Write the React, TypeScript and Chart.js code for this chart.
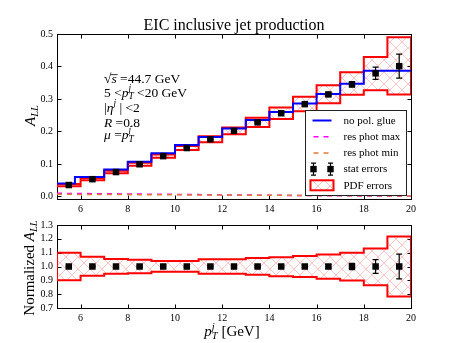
import React, { useEffect, useRef } from "react";
import { Chart, registerables } from "chart.js";
Chart.register(...registerables);

// ---------- data ----------
const binEdges = [5, 6, 7, 8, 9, 10, 11, 12, 13, 14, 15, 16, 17, 18, 19, 20];
const binCenters = [5.5, 6.5, 7.5, 8.5, 9.5, 10.5, 11.5, 12.5, 13.5, 14.5, 15.5, 16.5, 17.5, 18.5, 19.5];
const xTicks = [6, 8, 10, 12, 14, 16, 18, 20];
const topYTicks = [0.0, 0.1, 0.2, 0.3, 0.4, 0.5];
const bottomYTicks = [0.7, 0.8, 0.9, 1.0, 1.1, 1.2, 1.3];

const allPoints = [0.035, 0.053, 0.075, 0.099, 0.124, 0.149, 0.176, 0.202, 0.228, 0.256, 0.284, 0.314, 0.345, 0.379, 0.401];
const allStatErr = [0.0015, 0.0015, 0.0015, 0.0015, 0.0015, 0.0015, 0.0015, 0.0015, 0.002, 0.002, 0.0025, 0.004, 0.0075, 0.019, 0.037];
const pdfUpper = [0.0385, 0.0568, 0.0791, 0.1038, 0.129, 0.155, 0.185, 0.2125, 0.242, 0.274, 0.307, 0.342, 0.382, 0.429, 0.49];
const pdfLower = [0.0315, 0.0494, 0.0711, 0.0942, 0.119, 0.143, 0.167, 0.1915, 0.214, 0.238, 0.262, 0.287, 0.313, 0.327, 0.314];

const glueEdges = [5, 5.76, 7, 8, 9, 10, 11, 12, 13, 14, 15, 16, 17, 18, 20];
const glueValues = [0.04, 0.06, 0.083, 0.107, 0.133, 0.158, 0.183, 0.209, 0.235, 0.26, 0.286, 0.315, 0.347, 0.387];

const resPhotX = [5, 8, 11, 14, 17, 20];
const resPhotMax = [0.0095, 0.0075, 0.0055, 0.0035, 0.002, 0.0005];
const resPhotMin = [0.0065, 0.0055, 0.0045, 0.0035, 0.0025, 0.0012];

const normPoints = [1, 1, 1, 1, 1, 1, 1, 1, 1, 1, 1, 1, 1, 1, 1];
const normStatErr = [0.004, 0.004, 0.004, 0.004, 0.004, 0.004, 0.005, 0.005, 0.006, 0.007, 0.008, 0.013, 0.022, 0.05, 0.09];
const normUpper = [1.1, 1.071, 1.055, 1.048, 1.04, 1.04, 1.052, 1.052, 1.062, 1.067, 1.076, 1.086, 1.1, 1.13, 1.217];
const normLower = [0.9, 0.933, 0.948, 0.952, 0.962, 0.962, 0.948, 0.948, 0.94, 0.929, 0.924, 0.912, 0.898, 0.864, 0.783];

const legendLabels = ["no pol. glue", "res phot max", "res phot min", "stat errors", "PDF errors"];
const titleText = "EIC inclusive jet production";

// ---------- helpers ----------
const SERIF = "'Liberation Serif', 'DejaVu Serif', serif";
const BLUE = "#0000ff";
const RED = "#ff0000";
const MAGENTA = "#ff00ff";
const ORANGE = "#e07b39";

type Part = { t: string; it?: boolean; s?: number; dy?: number; noAdv?: boolean; over?: boolean };

function fontFor(p: Part, size: number) {
  return `${p.it ? "italic " : ""}${size * (p.s || 1)}px ${SERIF}`;
}
function richWidth(ctx: CanvasRenderingContext2D, parts: Part[], size: number) {
  let w = 0;
  for (const p of parts) {
    ctx.font = fontFor(p, size);
    if (!p.noAdv) w += ctx.measureText(p.t).width;
  }
  return w;
}
function drawRich(ctx: CanvasRenderingContext2D, x: number, y: number, parts: Part[], size: number, align: "left" | "center" = "left") {
  ctx.save();
  ctx.textAlign = "left";
  ctx.textBaseline = "alphabetic";
  ctx.fillStyle = "#000";
  let cx = align === "center" ? x - richWidth(ctx, parts, size) / 2 : x;
  for (const p of parts) {
    ctx.font = fontFor(p, size);
    const w = ctx.measureText(p.t).width;
    ctx.fillText(p.t, cx, y + (p.dy || 0));
    if (p.over) {
      ctx.strokeStyle = "#000";
      ctx.lineWidth = 0.8;
      ctx.beginPath();
      ctx.moveTo(cx - 1, y - size * 0.62);
      ctx.lineTo(cx + w + 1, y - size * 0.62);
      ctx.stroke();
    }
    if (!p.noAdv) cx += w;
  }
  ctx.restore();
}

function makeHatch(): CanvasPattern | string {
  const t = document.createElement("canvas");
  t.width = 12;
  t.height = 12;
  const c = t.getContext("2d");
  if (!c) return "rgba(255,0,0,0.2)";
  c.strokeStyle = "rgba(255,90,90,0.38)";
  c.lineWidth = 0.9;
  c.beginPath();
  c.moveTo(-1, -1);
  c.lineTo(13, 13);
  c.moveTo(13, -1);
  c.lineTo(-1, 13);
  c.stroke();
  const p = c.createPattern(t, "repeat");
  return p || "rgba(255,0,0,0.2)";
}

function bandShape(up: number[], lo: number[]) {
  const n = up.length;
  const pts: { x: number; y: number }[] = [];
  for (let i = 0; i < n; i++) pts.push({ x: binEdges[i], y: up[i] });
  pts.push({ x: binEdges[n], y: up[n - 1] });
  pts.push({ x: binEdges[n], y: lo[n - 1] });
  for (let i = n - 1; i >= 1; i--) pts.push({ x: binEdges[i], y: lo[i - 1] });
  pts.push({ x: binEdges[0], y: lo[0] });
  pts.push({ x: binEdges[0], y: up[0] });
  return pts;
}

function framePlugin(yTicks: number[]) {
  return {
    id: "frame",
    beforeDatasetsDraw(chart: any) {
      const { ctx, chartArea: a, scales } = chart;
      ctx.save();
      ctx.strokeStyle = "#000";
      ctx.lineWidth = 1;
      const L = Math.round(a.left) + 0.5, R = Math.round(a.right) + 0.5, T = Math.round(a.top) + 0.5, B = Math.round(a.bottom) + 0.5;
      ctx.strokeRect(L, T, R - L, B - T);
      ctx.beginPath();
      for (const v of xTicks) {
        const px = Math.round(scales.x.getPixelForValue(v)) + 0.5;
        ctx.moveTo(px, B); ctx.lineTo(px, B - 4);
        ctx.moveTo(px, T); ctx.lineTo(px, T + 4);
      }
      for (const v of yTicks) {
        const py = Math.round(scales.y.getPixelForValue(v)) + 0.5;
        ctx.moveTo(L, py); ctx.lineTo(L + 4, py);
        ctx.moveTo(R, py); ctx.lineTo(R - 4, py);
      }
      ctx.stroke();
      ctx.restore();
    },
  };
}

function errorBarPlugin(errs: number[]) {
  return {
    id: "errbars",
    beforeDatasetDraw(chart: any, args: any) {
      if (args.index !== 0) return;
      const { ctx, scales } = chart;
      const ds = chart.data.datasets[0].data as { x: number; y: number }[];
      ctx.save();
      ctx.strokeStyle = "#000";
      ctx.lineWidth = 1.2;
      ctx.beginPath();
      ds.forEach((d, i) => {
        const px = scales.x.getPixelForValue(d.x);
        const y1 = scales.y.getPixelForValue(d.y + errs[i]);
        const y2 = scales.y.getPixelForValue(d.y - errs[i]);
        ctx.moveTo(px, y1); ctx.lineTo(px, y2);
        ctx.moveTo(px - 3, y1); ctx.lineTo(px + 3, y1);
        ctx.moveTo(px - 3, y2); ctx.lineTo(px + 3, y2);
      });
      ctx.stroke();
      ctx.restore();
    },
  };
}

const ptStyleJ = (size: number): Part[] => [
  { t: "p", it: true },
  { t: "j", it: true, s: 0.7, dy: -size * 0.42, noAdv: true },
  { t: "T", it: true, s: 0.7, dy: size * 0.22 },
];

function topTextPlugin(hatch: CanvasPattern | string) {
  return {
    id: "toptext",
    afterDraw(chart: any) {
      const { ctx, chartArea: a } = chart;
      // title
      ctx.save();
      ctx.font = `16px ${SERIF}`;
      ctx.fillStyle = "#000";
      ctx.textAlign = "center";
      ctx.textBaseline = "alphabetic";
      ctx.fillText(titleText, (a.left + a.right) / 2, 30);
      ctx.restore();
      // y label
      ctx.save();
      ctx.translate(35, 115.5);
      ctx.rotate(-Math.PI / 2);
      drawRich(ctx, 0, 0, [{ t: "A", it: true }, { t: "LL", it: true, s: 0.7, dy: 3 }], 15, "center");
      ctx.restore();
      // annotation
      const fs = 13.5;
      const ax = 104;
      drawRich(ctx, ax, 83, [{ t: "\u221A", s: 1 }, { t: "s", it: true, over: true }, { t: " =44.7 GeV" }], fs);
      drawRich(ctx, ax, 96.5, [{ t: "5 <" }, ...ptStyleJ(fs), { t: " <20 GeV" }], fs);
      drawRich(ctx, ax, 111.5, [{ t: "|" }, { t: "\u03B7", it: true }, { t: "j", it: true, s: 0.7, dy: -fs * 0.42 }, { t: " | <2" }], fs);
      drawRich(ctx, ax, 126.5, [{ t: "R", it: true }, { t: " =0.8" }], fs);
      drawRich(ctx, ax, 139, [{ t: "\u03BC", it: true }, { t: " =" }, ...ptStyleJ(fs)], fs);
      // legend
      const lw = 101, lh = 85;
      const lx = Math.round(a.right) - 5 - lw + 0.5;
      const ly = Math.round(a.bottom) - 4 - lh + 0.5;
      ctx.save();
      ctx.fillStyle = "#fff";
      ctx.fillRect(lx, ly, lw, lh);
      ctx.strokeStyle = "#222";
      ctx.lineWidth = 1;
      ctx.strokeRect(lx, ly, lw, lh);
      const hx0 = lx + 7, hx1 = lx + 26;
      const rowY = (i: number) => ly + 10 + i * 16.2;
      // row 0 solid blue
      ctx.lineWidth = 2;
      ctx.strokeStyle = BLUE;
      ctx.beginPath(); ctx.moveTo(hx0, rowY(0)); ctx.lineTo(hx1, rowY(0)); ctx.stroke();
      // row 1/2 dashed
      ctx.lineWidth = 1.5;
      ctx.setLineDash([5, 5]);
      ctx.strokeStyle = MAGENTA;
      ctx.beginPath(); ctx.moveTo(hx0 + 1, rowY(1)); ctx.lineTo(hx1, rowY(1)); ctx.stroke();
      ctx.strokeStyle = ORANGE;
      ctx.beginPath(); ctx.moveTo(hx0 + 1, rowY(2)); ctx.lineTo(hx1, rowY(2)); ctx.stroke();
      ctx.setLineDash([]);
      // row 3 error markers
      ctx.fillStyle = "#000";
      ctx.strokeStyle = "#000";
      ctx.lineWidth = 1.2;
      for (const mx of [hx0 + 1, hx1 - 1]) {
        const my = rowY(3);
        ctx.beginPath();
        ctx.moveTo(mx, my - 6); ctx.lineTo(mx, my + 6);
        ctx.moveTo(mx - 2.5, my - 6); ctx.lineTo(mx + 2.5, my - 6);
        ctx.moveTo(mx - 2.5, my + 6); ctx.lineTo(mx + 2.5, my + 6);
        ctx.stroke();
        ctx.fillRect(mx - 3.2, my - 3.2, 6.4, 6.4);
      }
      // row 4 hatched rect
      const ry = rowY(4);
      ctx.fillStyle = hatch as any;
      ctx.fillRect(hx0 - 2, ry - 5, hx1 - hx0 + 4, 10);
      ctx.strokeStyle = RED;
      ctx.lineWidth = 2;
      ctx.strokeRect(hx0 - 2, ry - 5, hx1 - hx0 + 4, 10);
      ctx.restore();
      ctx.save();
      ctx.font = `11px ${SERIF}`;
      ctx.fillStyle = "#000";
      ctx.textAlign = "left";
      ctx.textBaseline = "middle";
      legendLabels.forEach((t, i) => ctx.fillText(t, lx + 38, rowY(i) + 0.5));
      ctx.restore();
    },
  };
}

const bottomTextPlugin = {
  id: "bottext",
  afterDraw(chart: any) {
    const { ctx, chartArea: a } = chart;
    ctx.save();
    ctx.translate(34, 268 - 215);
    ctx.rotate(-Math.PI / 2);
    drawRich(ctx, 0, 0, [{ t: "Normalized " }, { t: "A", it: true }, { t: "LL", it: true, s: 0.7, dy: 3 }], 15, "center");
    ctx.restore();
    drawRich(ctx, (a.left + a.right) / 2 - 2, 336 - 215, [...ptStyleJ(15), { t: " [GeV]" }], 15, "center");
  },
};

function baseOptions(yMin: number, yMax: number, yTicks: number[], padding: any, xAxisH: number) {
  return {
    responsive: true,
    maintainAspectRatio: false,
    animation: false as const,
    events: [] as any[],
    layout: { padding },
    plugins: { legend: { display: false }, tooltip: { enabled: false }, title: { display: false } },
    scales: {
      x: {
        type: "linear" as const,
        min: 5,
        max: 20,
        grid: { display: false, drawTicks: false },
        border: { display: false },
        afterBuildTicks: (s: any) => { s.ticks = xTicks.map((v) => ({ value: v })); },
        afterFit: (s: any) => { s.height = xAxisH; },
        ticks: { autoSkip: false, maxRotation: 0, padding: 4, color: "#000", font: { family: SERIF, size: 10 }, callback: (v: any) => String(v) },
      },
      y: {
        type: "linear" as const,
        min: yMin,
        max: yMax,
        grid: { display: false, drawTicks: false },
        border: { display: false },
        afterBuildTicks: (s: any) => { s.ticks = yTicks.map((v) => ({ value: v })); },
        afterFit: (s: any) => { s.width = 57; },
        ticks: { autoSkip: false, padding: 4, color: "#000", font: { family: SERIF, size: 10 }, callback: (v: any) => Number(v).toFixed(1) },
      },
    },
  };
}

export default function App() {
  const topRef = useRef<HTMLCanvasElement>(null);
  const botRef = useRef<HTMLCanvasElement>(null);

  useEffect(() => {
    if (!topRef.current || !botRef.current) return;
    const hatch = makeHatch();

    const c1 = new Chart(topRef.current, {
      type: "line",
      data: {
        datasets: [
          {
            label: legendLabels[3],
            data: binCenters.map((x, i) => ({ x, y: allPoints[i] })),
            showLine: false,
            pointStyle: "rect",
            pointRadius: 4.6,
            backgroundColor: "#000",
            borderColor: "#000",
            borderWidth: 0,
          },
          {
            label: legendLabels[0],
            data: [...glueValues.map((v, i) => ({ x: glueEdges[i], y: v })), { x: glueEdges[glueEdges.length - 1], y: glueValues[glueValues.length - 1] }],
            stepped: "before",
            borderColor: BLUE,
            borderWidth: 2,
            pointRadius: 0,
            fill: false,
          },
          {
            label: legendLabels[2],
            data: resPhotX.map((x, i) => ({ x, y: resPhotMin[i] })),
            borderColor: ORANGE,
            borderWidth: 1.5,
            borderDash: [5, 5],
            pointRadius: 0,
            fill: false,
          },
          {
            label: legendLabels[1],
            data: resPhotX.map((x, i) => ({ x, y: resPhotMax[i] })),
            borderColor: MAGENTA,
            borderWidth: 1.5,
            borderDash: [5, 5],
            pointRadius: 0,
            fill: false,
          },
          {
            label: legendLabels[4],
            data: bandShape(pdfUpper, pdfLower),
            stepped: "before",
            borderColor: RED,
            borderWidth: 2,
            backgroundColor: hatch as any,
            pointRadius: 0,
            fill: "shape",
          },
        ],
      } as any,
      options: baseOptions(-0.008, 0.5, topYTicks, { left: 0, right: 46, top: 34, bottom: 0 }, 16) as any,
      plugins: [framePlugin(topYTicks), errorBarPlugin(allStatErr), topTextPlugin(hatch)],
    });

    const c2 = new Chart(botRef.current, {
      type: "line",
      data: {
        datasets: [
          {
            label: legendLabels[3],
            data: binCenters.map((x, i) => ({ x, y: normPoints[i] })),
            showLine: false,
            pointStyle: "rect",
            pointRadius: 4.6,
            backgroundColor: "#000",
            borderColor: "#000",
            borderWidth: 0,
          },
          {
            label: legendLabels[4],
            data: bandShape(normUpper, normLower),
            stepped: "before",
            borderColor: RED,
            borderWidth: 2,
            backgroundColor: hatch as any,
            pointRadius: 0,
            fill: "shape",
          },
        ],
      } as any,
      options: baseOptions(0.7, 1.3, bottomYTicks, { left: 0, right: 46, top: 9, bottom: 19 }, 16) as any,
      plugins: [framePlugin(bottomYTicks), errorBarPlugin(normStatErr), bottomTextPlugin],
    });

    return () => {
      c1.destroy();
      c2.destroy();
    };
  }, []);

  return (
    <div style={{ position: "absolute", left: 0, top: 0, width: 457, height: 343, background: "#fff" }}>
      <div style={{ position: "absolute", left: 0, top: 0, width: 457, height: 215 }}>
        <canvas ref={topRef} />
      </div>
      <div style={{ position: "absolute", left: 0, top: 215, width: 457, height: 128 }}>
        <canvas ref={botRef} />
      </div>
    </div>
  );
}
